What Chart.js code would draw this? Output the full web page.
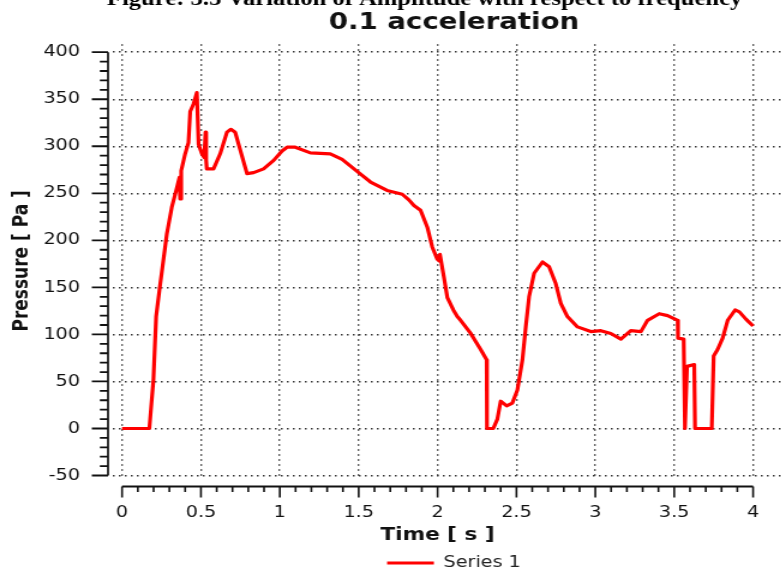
<!DOCTYPE html>
<html>
<head>
<meta charset="utf-8">
<script src="https://cdn.jsdelivr.net/npm/chart.js@4/dist/chart.umd.min.js"></script>
<style>
  html, body { margin: 0; padding: 0; background: #fff; overflow: hidden; width: 781px; height: 573px; }
  #wrap { position: absolute; left: 0; top: -20px; width: 668px; height: 601px; transform: scaleX(1.2); transform-origin: 0 0; }
</style>
</head>
<body>
<div id="wrap"><canvas id="chart" width="668" height="601"></canvas></div>
<script>
// Pressure response, 0.1 acceleration case
const timeS = [0, 0.173, 0.199, 0.216, 0.237, 0.262, 0.284, 0.315, 0.343, 0.364, 0.368, 0.375, 0.400, 0.421, 0.432, 0.453, 0.474, 0.485, 0.506, 0.521, 0.529, 0.533, 0.537, 0.580, 0.622, 0.665, 0.690, 0.717, 0.739, 0.792, 0.834, 0.897, 0.961, 1.014, 1.046, 1.098, 1.194, 1.320, 1.395, 1.500, 1.575, 1.680, 1.776, 1.818, 1.850, 1.892, 1.935, 1.966, 1.998, 2.012, 2.015, 2.040, 2.062, 2.100, 2.125, 2.146, 2.210, 2.273, 2.311, 2.313, 2.353, 2.379, 2.400, 2.438, 2.474, 2.506, 2.538, 2.559, 2.580, 2.612, 2.665, 2.707, 2.749, 2.781, 2.823, 2.887, 2.971, 3.035, 3.098, 3.162, 3.225, 3.289, 3.331, 3.405, 3.458, 3.522, 3.524, 3.560, 3.568, 3.581, 3.627, 3.632, 3.738, 3.750, 3.775, 3.807, 3.839, 3.886, 3.913, 3.956, 4.000];
const pressurePa = [0, 0, 52, 119, 147, 179, 207, 235, 253, 267, 244, 274, 292, 304, 337, 345, 357, 302, 292, 288, 315, 285, 276, 276, 292, 315, 318, 315, 302, 271, 272, 276, 285, 295, 299, 299, 293, 292, 286, 272, 262, 253, 249, 243, 237, 232, 214, 193, 180, 178, 185, 161, 139, 126, 119, 115, 101, 84, 73, 0, 0, 10, 29, 24, 27, 41, 73, 108, 140, 165, 177, 172, 154, 133, 119, 108, 103, 104, 101, 95, 104, 103, 115, 122, 120, 115, 96, 95, 0, 66, 68, 0, 0, 77, 84, 96, 115, 126, 124, 116, 109];

// Tick positions
const xTicks = [0, 0.5, 1, 1.5, 2, 2.5, 3, 3.5, 4];
const yTicks = [-50, 0, 50, 100, 150, 200, 250, 300, 350, 400];
const xMinorPerMajor = 5;   // minor step 0.1 s
const yMinorPerMajor = 5;   // minor step 10 Pa

const seriesName = 'Series 1';
const chartTitle = '0.1 acceleration';
const xTitle = 'Time [ s ]';
const yTitle = 'Pressure [ Pa ]';
const captionText = 'Figure: 3.5 Variation of Amplitude with respect to frequency';

// Solid axis lines with major/minor tick marks, set slightly apart from the plot area,
// and the time-axis title centred under the axis line
const axisFrame = {
  id: 'axisFrame',
  afterDraw(chart) {
    const { ctx, chartArea } = chart;
    const xs = chart.scales.x, ys = chart.scales.y;
    ctx.save();
    ctx.strokeStyle = '#111';
    ctx.lineCap = 'butt';

    // vertical axis
    const ax = chartArea.left - 4.2;
    const yFirst = yTicks[0], yLast = yTicks[yTicks.length - 1];
    ctx.lineWidth = 1.7;
    ctx.beginPath();
    ctx.moveTo(ax, ys.getPixelForValue(yLast));
    ctx.lineTo(ax, ys.getPixelForValue(yFirst));
    ctx.stroke();
    ctx.lineWidth = 1.8;
    ctx.beginPath();
    for (let i = 0; i < yTicks.length; i++) {
      const py = ys.getPixelForValue(yTicks[i]);
      ctx.moveTo(ax - 13.5, py); ctx.lineTo(ax, py);
      if (i < yTicks.length - 1) {
        const step = (yTicks[i + 1] - yTicks[i]) / yMinorPerMajor;
        for (let k = 1; k < yMinorPerMajor; k++) {
          const pm = ys.getPixelForValue(yTicks[i] + k * step);
          ctx.moveTo(ax - 6.8, pm); ctx.lineTo(ax, pm);
        }
      }
    }
    ctx.stroke();

    // horizontal axis
    const ay = chartArea.bottom + 9;
    const xFirst = xTicks[0], xLast = xTicks[xTicks.length - 1];
    const x0 = xs.getPixelForValue(xFirst), x1 = xs.getPixelForValue(xLast);
    ctx.lineWidth = 1.8;
    ctx.beginPath();
    ctx.moveTo(x0, ay);
    ctx.lineTo(x1, ay);
    ctx.stroke();
    ctx.lineWidth = 1.6;
    ctx.beginPath();
    for (let i = 0; i < xTicks.length; i++) {
      const px = xs.getPixelForValue(xTicks[i]);
      ctx.moveTo(px, ay); ctx.lineTo(px, ay + 11);
      if (i < xTicks.length - 1) {
        const step = (xTicks[i + 1] - xTicks[i]) / xMinorPerMajor;
        for (let k = 1; k < xMinorPerMajor; k++) {
          const pm = xs.getPixelForValue(xTicks[i] + k * step);
          ctx.moveTo(pm, ay); ctx.lineTo(pm, ay + 5.5);
        }
      }
    }
    ctx.stroke();

    // axis title
    ctx.fillStyle = '#111';
    ctx.font = 'bold 18px "DejaVu Sans"';
    ctx.textAlign = 'center';
    ctx.textBaseline = 'middle';
    ctx.fillText(xTitle, (x0 + x1) / 2, chartArea.bottom + 58);
    ctx.restore();
  }
};

// Figure caption line above the chart title
const caption = {
  id: 'caption',
  afterDraw(chart) {
    const ctx = chart.ctx;
    ctx.save();
    ctx.font = 'bold 20.5px "Liberation Serif", "Times New Roman", serif';
    ctx.fillStyle = '#000';
    ctx.textAlign = 'center';
    ctx.textBaseline = 'alphabetic';
    ctx.fillText(captionText, 353.8, 25);
    ctx.restore();
  }
};

const gridStyle = { color: '#333', lineWidth: 1.4, drawTicks: false };

new Chart(document.getElementById('chart'), {
  type: 'line',
  data: {
    datasets: [{
      label: seriesName,
      data: timeS.map((t, i) => ({ x: t, y: pressurePa[i] })),
      borderColor: '#ff0000',
      backgroundColor: '#ff0000',
      borderWidth: 3.2,
      pointRadius: 0,
      tension: 0,
      fill: false,
      borderJoinStyle: 'round'
    }]
  },
  options: {
    responsive: false,
    animation: false,
    devicePixelRatio: 1,
    layout: { padding: { left: 0, right: 5.6, top: 0, bottom: 0 } },
    plugins: {
      title: {
        display: true,
        text: chartTitle,
        fullSize: false,
        color: '#111',
        font: { family: 'DejaVu Sans', size: 23, weight: 'bold' },
        padding: { top: 29.2, bottom: 7.4 }
      },
      legend: {
        display: true,
        position: 'bottom',
        fullSize: false,
        labels: {
          usePointStyle: true,
          pointStyle: 'line',
          pointStyleWidth: 39,
          color: '#222',
          font: { family: 'DejaVu Sans', size: 16 },
          padding: 10
        }
      },
      tooltip: { enabled: false }
    },
    scales: {
      x: {
        type: 'linear',
        min: -0.057,
        max: 4.265,
        afterBuildTicks: s => { s.ticks = xTicks.map(v => ({ value: v })); },
        afterFit: s => { s.height = 67.5; },
        grid: gridStyle,
        border: { display: false, dash: [1.5, 3.5] },
        ticks: { color: '#111', font: { family: 'DejaVu Sans', size: 16 }, padding: 25.4, maxRotation: 0, callback: v => String(v) }
      },
      y: {
        type: 'linear',
        min: -52.1,
        max: 408.5,
        afterBuildTicks: s => { s.ticks = yTicks.map(v => ({ value: v })); },
        afterFit: s => { s.width = 94.2; },
        grid: gridStyle,
        border: { display: false, dash: [1.5, 3.5] },
        ticks: { color: '#111', font: { family: 'DejaVu Sans', size: 16 }, padding: 27.5, callback: v => String(v) },
        title: { display: true, text: yTitle, color: '#111', font: { family: 'DejaVu Sans', size: 17, weight: 'bold' }, padding: { top: 8.1, bottom: 0 } }
      }
    }
  },
  plugins: [axisFrame, caption]
});
</script>
</body>
</html>
